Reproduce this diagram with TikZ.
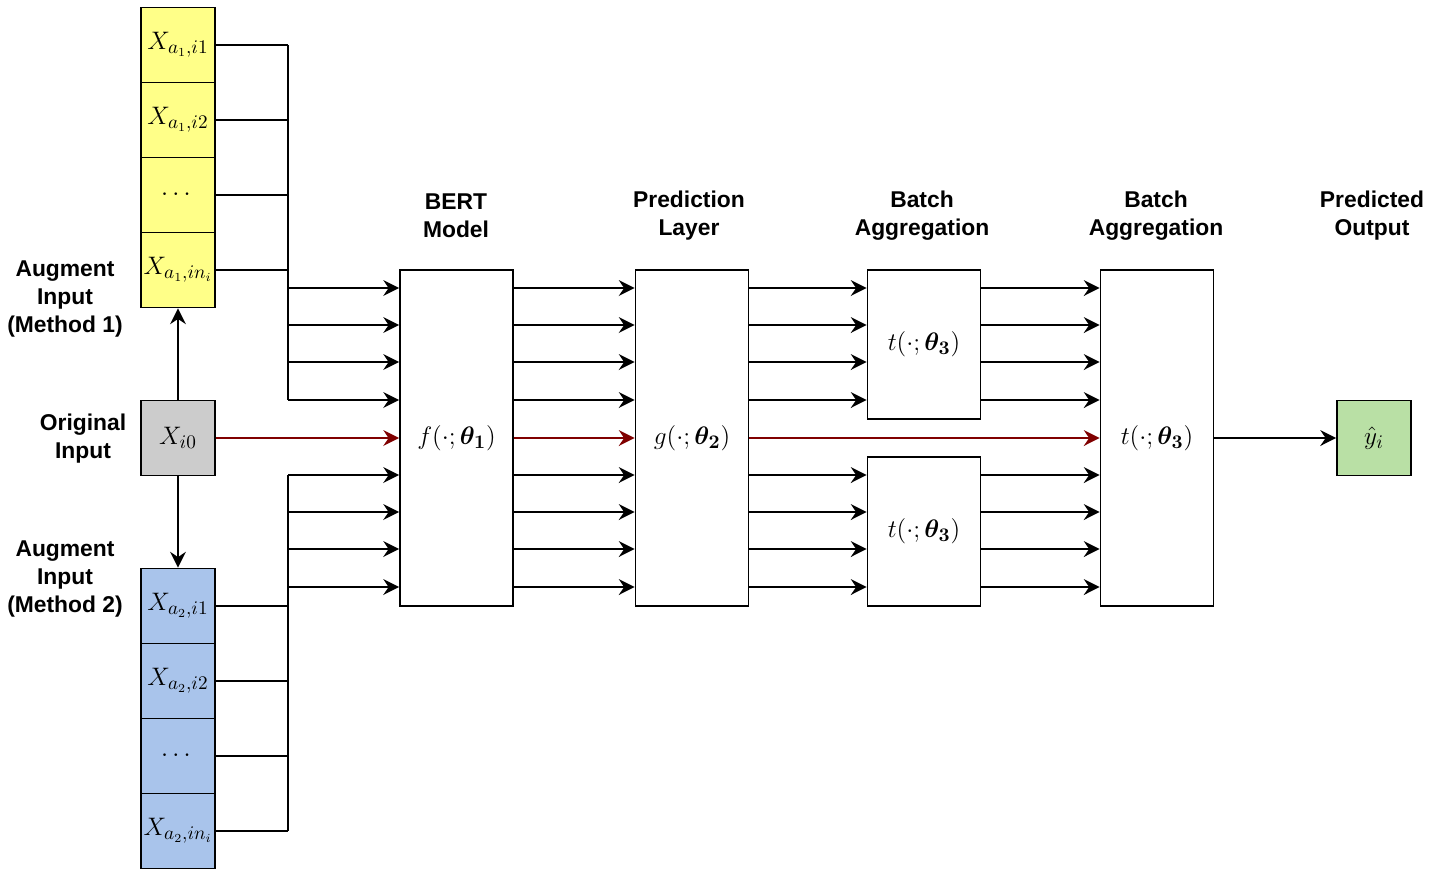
\documentclass[tikz,border=0pt]{standalone}
\usepackage{fontspec}
\usepackage{xcolor}
\usepackage{tikz}
\usetikzlibrary{arrows.meta}
\usepackage{amsmath}
\usepackage{amssymb}
\newfontfamily\labelfont{Liberation Sans}
\definecolor{augyellow}{HTML}{FFFF88}
\definecolor{origgray}{HTML}{CCCCCC}
\definecolor{augblue}{HTML}{A9C4EB}
\definecolor{outgreen}{HTML}{B9E0A5}
\definecolor{pathred}{HTML}{800000}
\tikzset{
	cell/.style={draw, line width=1pt, minimum width=1.48cm, minimum height=1.5cm, inner sep=0pt, font=\fontsize{15}{18}\selectfont},
	block/.style={draw, line width=1pt, minimum width=2.26cm, minimum height=6.72cm, inner sep=0pt, font=\fontsize{15}{18}\selectfont},
	halfblock/.style={block, minimum height=2.98cm},
	lbl/.style={align=center, font=\labelfont\bfseries\fontsize{13}{15.9}\selectfont},
	link/.style={line width=1pt},
	arr/.style={line width=1pt, -{Stealth[length=9pt,width=9pt,inset=3pt]}},
	redarr/.style={arr, draw=pathred, fill=pathred},
}

\begin{document}
\begin{tikzpicture}[x=0.02cm,y=-0.02cm]
	\useasboundingbox (0,0) rectangle (1442,870);
%	rows of the arrows
	\foreach \i/\y in {1/288,2/325,3/362,4/400,5/475,6/512,7/549,8/587}{
		\coordinate (r\i) at (0,\y);
	}
	\coordinate (bus) at (288,0);
	\node (orig) at (178,438) [cell,fill=origgray] {$X_{i0}$};
	\foreach \n/\y/\t in {1/45/{X_{a_1,i1}},2/120/{X_{a_1,i2}},3/195/{\cdots},4/270/{X_{a_1,in_i}}}{
		\node (top\n) at (178,\y) [cell,fill=augyellow] {$\t$};
		\draw[link] (top\n.east) -- (top\n.east -| bus);
	}
	\foreach \n/\y/\t in {1/606/{X_{a_2,i1}},2/681/{X_{a_2,i2}},3/756/{\cdots},4/831/{X_{a_2,in_i}}}{
		\node (bot\n) at (178,\y) [cell,fill=augblue] {$\t$};
		\draw[link] (bot\n.east) -- (bot\n.east -| bus);
	}
	\draw[link] (top1.east -| bus) -- (bus |- r4);
	\draw[link] (bus |- r5) -- (bot4.east -| bus);
	\draw[arr] (orig.north) -- (top4.south);
	\draw[arr] (orig.south) -- (bot1.north);

	\node (bert) at (456.5,438) [block] {$f(\cdot;\boldsymbol{\theta_1})$};
	\node (pred) at (692,438) [block] {$g(\cdot;\boldsymbol{\theta_2})$};
	\node (tA) at (924,344.5) [halfblock] {$t(\cdot;\boldsymbol{\theta_3})$};
	\node (tB) at (924,531.5) [halfblock] {$t(\cdot;\boldsymbol{\theta_3})$};
	\node (agg) at (1157,438) [block] {$t(\cdot;\boldsymbol{\theta_3})$};
	\node (out) at (1374,438) [cell,fill=outgreen] {$\hat{y}_i$};

	\foreach \i in {1,...,4}{
		\draw[arr] (bus |- r\i) -- (bert.west |- r\i);
		\draw[arr] (pred.east |- r\i) -- (tA.west |- r\i);
		\draw[arr] (tA.east |- r\i) -- (agg.west |- r\i);
	}
	\foreach \i in {5,...,8}{
		\draw[arr] (bus |- r\i) -- (bert.west |- r\i);
		\draw[arr] (pred.east |- r\i) -- (tB.west |- r\i);
		\draw[arr] (tB.east |- r\i) -- (agg.west |- r\i);
	}
	\foreach \i in {1,...,8}{
		\draw[arr] (bert.east |- r\i) -- (pred.west |- r\i);
	}
	\draw[redarr] (orig.east) -- (bert.west);
	\draw[redarr] (bert.east) -- (pred.west);
	\draw[redarr] (pred.east) -- (agg.west);
	\draw[arr] (agg.east) -- (out.west);

	\node (bertlbl) at (456,216) [lbl] {BERT\\Model};
	\node (predlbl) at (689,216) [lbl] {Prediction\\Layer};
	\node (tlbl) at (922,216) [lbl] {Batch\\Aggregation};
	\node (agglbl) at (1156,216) [lbl] {Batch\\Aggregation};
	\node (outlbl) at (1372,216) [lbl] {Predicted\\Output};
	\node (toplbl) at (65,299) [lbl] {Augment\\Input\\(Method 1)};
	\node (origlbl) at (83,439) [lbl] {Original\\Input};
	\node (botlbl) at (65,579) [lbl] {Augment\\Input\\(Method 2)};
\end{tikzpicture}
\end{document}
